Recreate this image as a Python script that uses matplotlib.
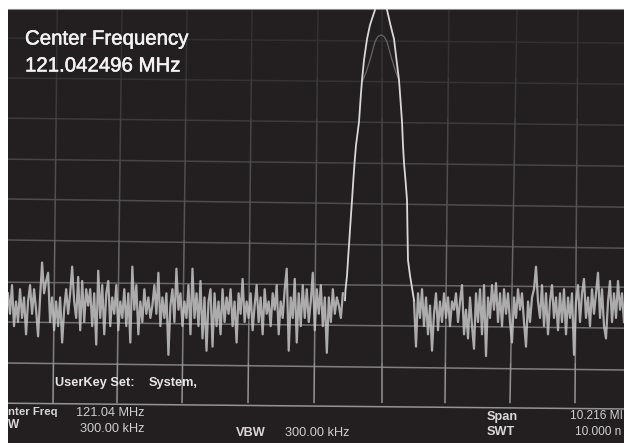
import numpy as np
import matplotlib
matplotlib.use("Agg")
import matplotlib.pyplot as plt
from matplotlib.collections import LineCollection
import matplotlib.patheffects as pe

plt.rcParams['font.family'] = ['Liberation Sans', 'DejaVu Sans']

center_mhz = 121.04

noise_left_db = [
    -72,-77,-70,-80,-74,-79,-71,-78,-73,-82,
    -74,-70,-77,-71,-76,-82.5,-73,-64.5,-72,-69,
    -67,-79,-73,-81,-74,-80,-73,-84,-76,-71,
    -77,-72,-65.5,-74,-78,-68,-81,-69,-79,-71,
    -75,-71,-80,-72,-84.5,-66.5,-78,-70,-82,-72,
    -69,-80,-73,-77,-70,-81,-74,-78,-71,-80,
    -72,-84,-65.5,-76,-70,-82,-74,-79,-71,-77,
    -73,-78,-75,-70,-77,-67,-80,-73,-78,-72,
    -87,-75,-71,-79,-66,-76,-72,-80,-74,-78,
    -70,-82,-66,-78,-72,-80,-69,-83,-73,-86,
    -74,-71,-85,-72,-80,-74,-82,-71,-79,-73,
    -77,-71,-80,-74,-84,-72,-77,-68.5,-79,-74,
    -78,-72,-81,-75,-70,-79,-73,-82,-71,-77,
    -74,-80,-72,-76,-70,-82,-74,-78,-71,-66,
    -86,-73,-78,-68.5,-84,-72,-80,-70,-78,-71,
    -79,-74,-67,-81,-71,-77,-70,-80,-73,-86.5,
    -73,-79,-71,-77,-73,-75,-78,-72,
]
noise_right_db = [
    -74,-85,-72,-78,-71,-80,-73,-82,-75,-86,
    -77,-72,-81,-74,-79,-72,-78,-73,-80,-74,
    -76,-72,-79,-74,-70,-82,-76,-83,-73,-80,
    -85.5,-72,-79,-71,-82,-70,-87.3,-73,-78,-70,
    -76,-69.5,-79,-72,-80,-71,-77,-72,-79,-84,
    -73,-78,-71,-76,-72,-79,-85,-74,-79,-73,
    -71,-65.5,-74,-78,-70,-80,-72,-82,-74,-70,
    -78,-73,-81,-72,-79,-71,-82,-73,-78,-72,
    -87,-74,-70,-79,-72,-68.5,-78,-73,-80,-71,
    -77,-72,-67,-78,-71,-80,-83,-74,-69,-79,
    -72,-78,-69,-76,-72,-79,
]
noise_left_start, noise_left_stop = 115.221, 120.445
noise_right_start, noise_right_stop = 121.555, 124.831

peak_offset_mhz = [-.562,-.554,-.530,-.515,-.499,-.484,-.468,-.452,-.437,-.413,
                   -.390,-.343,-.320,-.296,-.265,-.218,-.172,-.094,-.047,0,
                   .047,.094,.148,.203,.242,.281,.304,.328,.343,.359,
                   .382,.406,.413,.421,.452,.484,.515]
peak_db = [-73.7,-71.2,-67.6,-63.9,-60.2,-56.6,-52.9,-49.3,-45.6,-40.2,
           -35.9,-30.2,-24.9,-20,-15.1,-10,-6.6,-2.9,-0.5,0.7,
           -0.5,-2.9,-6.6,-10,-15.1,-20,-24.9,-30.2,-35.9,-40.2,
           -44.4,-49.3,-56.6,-63.9,-67.6,-70.7,-73.7]

inner_offset_mhz = [-.28,-.23,-.172,-.094,-.05,0,.05,.094,.172,.23,.28]
inner_db = [-20,-18,-15.1,-10.7,-9.4,-9,-9.4,-10.7,-15.1,-18,-20]

grid_freq_top = [115.99,116.999,118.014,119.028,120.057,121.056,122.101,123.162,124.113]
grid_freq_bottom = [115.923,116.921,117.936,118.965,119.995,121.056,122.038,123.052,124.066]
grid_db_left = [-9.76,-19.5,-29.3,-39.3,-49.0,-59.0,-69.3,-79.0,-89.0,-98.8]
grid_db_right = [-10.98,-21.0,-31.0,-41.0,-51.0,-61.0,-70.5,-80.5,-90.7,-100.2]
grid_gray = [0.19,0.20,0.23,0.27,0.30,0.33,0.40,0.44,0.50,0.58]

W, H = 624, 443
fig = plt.figure(figsize=(W/100, H/100), dpi=100, facecolor='white')
ax = fig.add_axes([8/W, 0, 616/W, 434/H], facecolor='#231f20')
xmin, xmax = 115.221, 124.831
ymin, ymax = -108.5, -2.68
ax.set_xlim(xmin, xmax)
ax.set_ylim(ymin, ymax)
ax.set_xticks([]); ax.set_yticks([])
for name, s in ax.spines.items():
    s.set_visible(name == 'top')
ax.spines['top'].set_color('#8a8a8a')
ax.spines['top'].set_linewidth(0.8)

# tilted screen graticule, brightening toward the bottom
for yl, yr, g in zip(grid_db_left, grid_db_right, grid_gray):
    ax.plot([xmin, xmax], [yl, yr], color=(g, g, g), lw=1.1, zorder=1)
for ft, fb in zip(grid_freq_top, grid_freq_bottom):
    dbs = np.array([ymax] + grid_db_left)
    fs = ft + (fb - ft) * (dbs - ymax) / (grid_db_left[-1] - ymax)
    segs = [[(fs[i], dbs[i]), (fs[i+1], dbs[i+1])] for i in range(len(dbs)-1)]
    cols = [(g, g, g) for g in grid_gray]
    ax.add_collection(LineCollection(segs, colors=cols, linewidths=1.1, zorder=1))

trace = '#c6c6c6'
ax.plot(np.linspace(noise_left_start, noise_left_stop, len(noise_left_db)), noise_left_db,
        color=trace, lw=1.6, alpha=0.85, solid_joinstyle='round', zorder=3)
ax.plot(np.linspace(noise_right_start, noise_right_stop, len(noise_right_db)), noise_right_db,
        color=trace, lw=1.6, alpha=0.85, solid_joinstyle='round', zorder=3)
ax.plot(center_mhz + np.array(inner_offset_mhz), inner_db, color='#666666', lw=0.9, zorder=2)
ax.plot(center_mhz + np.array(peak_offset_mhz), peak_db, color='#d8d8d8', lw=1.3, zorder=4)

def label(px, py, s, size, weight='normal', color='#e6e6e6', stroke=0):
    t = ax.text(px/W, 1-py/H, s, transform=fig.transFigure, fontsize=size, weight=weight,
                color=color, va='center', ha='left', zorder=6)
    if stroke:
        t.set_path_effects([pe.withStroke(linewidth=stroke, foreground=color)])
    return t

label(25, 39, 'Center Frequency', 14.7, color='#f2f2f2', stroke=0.4)
label(25, 66, '121.042496 MHz', 14.7, color='#f2f2f2', stroke=0.4)
label(55, 383, 'UserKey Set:', 9.2, 'bold')
label(149, 383, 'System,', 9.2, 'bold')
label(8, 412, 'nter Freq', 8.2, 'bold', color='#d8d8d8')
label(8, 425, 'W', 8.6, 'bold', color='#d8d8d8')
label(76, 413, '121.04 MHz', 9.2, color='#d0d0d0')
label(80, 429, '300.00 kHz', 9.2, color='#d0d0d0')
label(236, 433, 'VBW', 9.2, 'bold', color='#d8d8d8')
label(285, 433, '300.00 kHz', 9.2, color='#d0d0d0')
label(487, 417, 'Span', 9.2, 'bold', color='#d8d8d8')
label(487, 432, 'SWT', 9.2, 'bold', color='#d8d8d8')
label(570, 416, '10.216 MI', 8.6, color='#d0d0d0')
label(575, 432, '10.000 n', 8.6, color='#d0d0d0')

fig.savefig('out.png', dpi=100, facecolor='white')
